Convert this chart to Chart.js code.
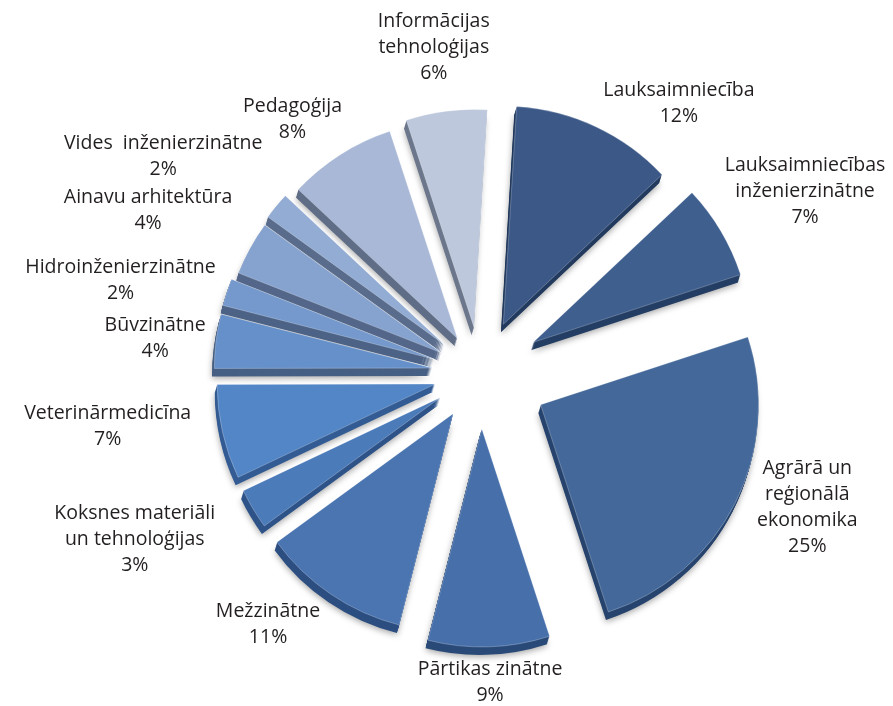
<!DOCTYPE html>
<html><head><meta charset="utf-8">
<script src="https://cdn.jsdelivr.net/npm/chart.js@4.4.1/dist/chart.umd.min.js"></script>
<style>html,body{margin:0;padding:0;background:#fff}canvas{display:block}</style>
</head><body>
<canvas id="c" width="893" height="706"></canvas>
<script>
// ---- data ----
const categories = [
  ["Lauksaimniecība"],
  ["Lauksaimniecības", "inženierzinātne"],
  ["Agrārā un", "reģionālā", "ekonomika"],
  ["Pārtikas zinātne"],
  ["Mežzinātne"],
  ["Koksnes materiāli", "un tehnoloģijas"],
  ["Veterinārmedicīna"],
  ["Būvzinātne"],
  ["Hidroinženierzinātne"],
  ["Ainavu arhitektūra"],
  ["Vides  inženierzinātne"],
  ["Pedagoģija"],
  ["Informācijas", "tehnoloģijas"]
];
const values = [12, 7, 25, 9, 11, 3, 7, 4, 2, 4, 2, 8, 6];

// ---- styles ----
const colors = ["#3b5887","#3f5f8f","#436899","#4770ab","#4a75b1","#4c7bba","#5386c6",
                "#6690c9","#7599cc","#86a3d0","#93acd3","#a8b8d6","#bdc8dc"];
const sideColors = ["#223a5e","#243e64","#27446e","#2a4a78","#2c4e80","#2e5388","#345c94",
                    "#465f84","#4d6386","#54678a","#5a6c8c","#5f6d86","#6c778c"];
const explode = [55, 62, 68, 55, 48, 46, 46, 48, 48, 44, 46, 42, 47];
const labelNudge = [[43,17],[5,-14],[22,-22],[-2,-9],[-19,-13],[-25,-4],[-6,-17],
                    [15,4],[9,4],[-2,-11],[-15,-15],[-4,14],[-2,2]];
const LABEL_GAP = 74;
const DEPTH = 8;
const FONT = '19.5px "Open Sans"';
const LINE_H = 26;

const origDraw = Chart.ArcElement.prototype.draw;
Chart.ArcElement.prototype.draw = function(ctx, area) {
  const e = this.$explode || 0;
  const mid = (this.startAngle + this.endAngle) / 2;
  ctx.save();
  ctx.translate(Math.cos(mid) * e, Math.sin(mid) * e);
  origDraw.call(this, ctx, area);
  ctx.restore();
};

const depthPlugin = {
  id: 'depth3d',
  beforeDatasetsDraw(chart) {
    const ctx = chart.ctx;
    const meta = chart.getDatasetMeta(0);
    meta.data.forEach((arc, i) => { arc.$explode = explode[i]; });
    for (let d = DEPTH; d >= 1; d--) {
      meta.data.forEach((arc, i) => {
        const fake = Object.create(arc);
        fake.options = Object.assign({}, arc.options, {backgroundColor: sideColors[i], borderWidth: 0});
        ctx.save();
        if (d === DEPTH) {
          ctx.shadowColor = 'rgba(0,0,0,0.35)';
          ctx.shadowBlur = 6;
          ctx.shadowOffsetY = 2;
        }
        ctx.translate(-0.3 * d, d);
        fake.draw(ctx);
        ctx.restore();
      });
    }
  }
};

const labelPlugin = {
  id: 'outLabels',
  afterDatasetsDraw(chart) {
    const ctx = chart.ctx;
    const meta = chart.getDatasetMeta(0);
    ctx.save();
    ctx.font = FONT;
    ctx.fillStyle = '#231f20';
    ctx.textAlign = 'center';
    ctx.textBaseline = 'middle';
    meta.data.forEach((arc, i) => {
      const p = arc.getProps(['x','y','startAngle','endAngle','outerRadius'], true);
      const mid = (p.startAngle + p.endAngle) / 2;
      const c = Math.cos(mid), s = Math.sin(mid);
      const dist = p.outerRadius + LABEL_GAP;
      const ax = p.x + c * dist, ay = p.y + s * dist;
      const lines = categories[i].concat([values[i] + '%']);
      let w = 0;
      lines.forEach(l => { w = Math.max(w, ctx.measureText(l).width); });
      const h = lines.length * LINE_H;
      const bx = ax + c * w / 2 + labelNudge[i][0], by = ay + s * h / 2 + labelNudge[i][1];
      lines.forEach((l, k) => {
        ctx.fillText(l, bx, by - h / 2 + LINE_H / 2 + k * LINE_H);
      });
    });
    ctx.restore();
  }
};

new Chart(document.getElementById('c'), {
  type: 'pie',
  data: {
    labels: categories,
    datasets: [{
      data: values,
      backgroundColor: colors,
      borderColor: 'rgba(255,255,255,0.25)',
      borderWidth: 1,
      offset: 0,
      hoverOffset: 0
    }]
  },
  options: {
    responsive: false,
    animation: false,
    events: [],
    rotation: 3.5,
    radius: 218,
    layout: { padding: { left: 67, top: 42, right: 0, bottom: 0 } },
    plugins: { legend: { display: false }, tooltip: { enabled: false } }
  },
  plugins: [depthPlugin, labelPlugin]
});
</script>
</body></html>
